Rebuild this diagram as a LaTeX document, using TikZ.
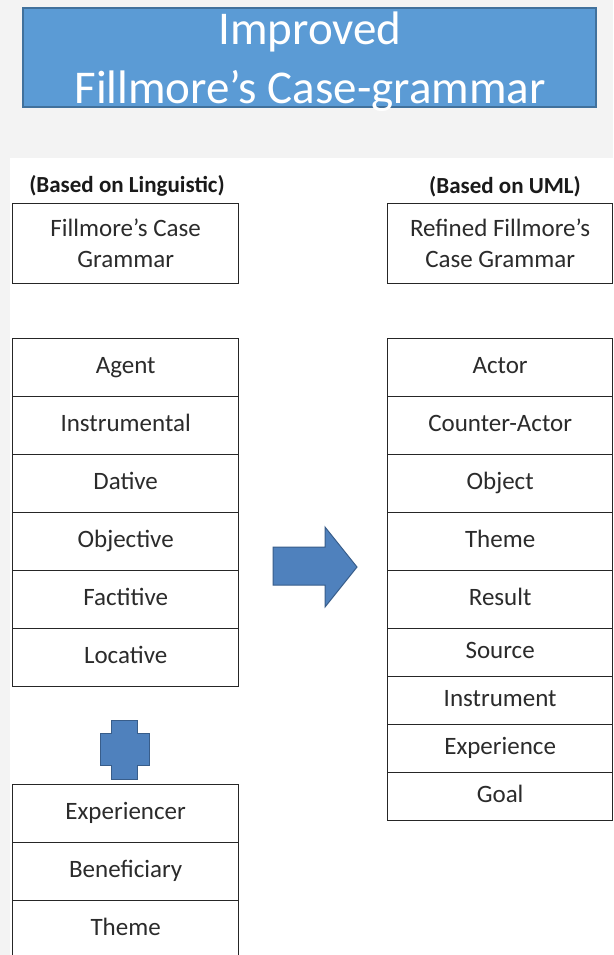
\documentclass[tikz,border=0pt]{standalone}
\usepackage{fontspec}
\setmainfont{Carlito}
\usepackage[HTML]{xcolor}
\usetikzlibrary{positioning}

\definecolor{titleblue}{HTML}{5B9BD5}
\definecolor{titleedge}{HTML}{41719C}
\definecolor{shapeblue}{HTML}{4F81BD}
\definecolor{shapeedge}{HTML}{385D8A}
\definecolor{pagegray}{HTML}{F3F3F3}
\definecolor{celltext}{HTML}{2B2B2B}

\tikzset{
  cell/.style={draw=black!85, line width=1.3pt, fill=white, anchor=north west,
    minimum width=226pt, minimum height=58pt, inner sep=0pt,
    font=\fontsize{25}{31}\selectfont, text=celltext, align=center},
  row/.style={cell, text height=18pt, text depth=6pt},
  basedon/.style={anchor=base, font=\bfseries\fontsize{23}{27}\selectfont, text=black!90},
  titletext/.style={anchor=base, text=white, font=\fontsize{47}{58}\selectfont},
  blueshape/.style={fill=shapeblue, draw=shapeedge, line width=1pt}
}

\begin{document}
\begin{tikzpicture}[x=1pt,y=-1pt]
\useasboundingbox (0,0) rectangle (613,955);
\clip (0,0) rectangle (613,955);
\fill[pagegray] (0,0) rectangle (613,955);
\fill[white] (10,158) rectangle (613,955);

% title
\filldraw[fill=titleblue, draw=titleedge, line width=2pt] (23,8) rectangle (596,107);
\node[titletext] (title1) at (310,45) {Improved};
\node[titletext] (title2) at (310,103) {Fillmore’s Case-grammar};

% left side
\node[basedon] (lbase) at (127,192) {(Based on Linguistic)};
\node[cell, minimum height=80pt] (lhead) at (12,203) {Fillmore’s Case\\Grammar};
\foreach \name [count=\i from 0] in {Agent,Instrumental,Dative,Objective,Factitive,Locative}
  \node[row] (lcase\i) at (12,{338+58*\i}) {\name};
\foreach \name [count=\i from 0] in {Experiencer,Beneficiary,Theme}
  \node[row] (lextra\i) at (12,{784+58*\i}) {\name};

% plus
\filldraw[blueshape] (111,720) -- (137,720) -- (137,733) -- (149,733) -- (149,765)
  -- (137,765) -- (137,779) -- (111,779) -- (111,765) -- (100,765) -- (100,733)
  -- (111,733) -- cycle;

% arrow
\filldraw[blueshape] (273,547) -- (325,547) -- (325,527) -- (357,567) -- (325,607)
  -- (325,585) -- (273,585) -- cycle;

% right side
\node[basedon] (rbase) at (505,193) {(Based on UML)};
\node[cell, minimum width=225pt, minimum height=80pt] (rhead) at (387,203) {Refined Fillmore’s\\Case Grammar};
\foreach \name [count=\i from 0] in {Actor,Counter-Actor,Object,Theme,Result}
  \node[row, minimum width=225pt] (rcase\i) at (387,{338+58*\i}) {\name};
\foreach \name [count=\i from 0] in {Source,Instrument,Experience,Goal}
  \node[row, minimum width=225pt, minimum height=48pt] (rlow\i) at (387,{628+48*\i}) {\name};
\end{tikzpicture}
\end{document}
